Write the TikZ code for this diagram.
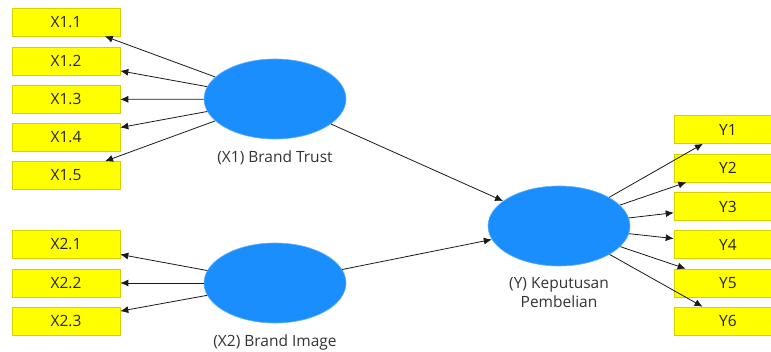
\documentclass[tikz,border=0pt]{standalone}
\usepackage{fontspec}
\setmainfont{Open Sans}
\usetikzlibrary{arrows.meta,shapes.geometric}
\definecolor{boxyellow}{HTML}{FFFF00}
\definecolor{boxedge}{HTML}{D8D000}
\definecolor{latblue}{HTML}{1A8EFC}
\definecolor{linecol}{HTML}{1A1A1A}
\begin{document}
\begin{tikzpicture}[x=1pt,y=-1pt,
  ind/.style={draw=boxedge,line width=0.6pt,fill=boxyellow,minimum width=108pt,minimum height=28pt,inner sep=0pt,font=\fontsize{15.5}{17}\selectfont,text=black!85},
  lat/.style={ellipse,fill=latblue,draw=latblue!70!white,line width=0.6pt,minimum width=142pt,minimum height=80pt,inner sep=0pt},
  lab/.style={font=\fontsize{15.5}{19}\selectfont,align=center,text=black!80},
  arr/.style={draw=linecol,line width=0.8pt,-{Latex[length=8pt,width=7pt]}}]
\useasboundingbox (0,0) rectangle (771,352);
\clip (0,0) rectangle (771,352);
% latent variables
\node[lat] (x1) at (275,99) {};
\node[lat] (x2) at (275,283) {};
\node[lat] (y) at (559,226) {};
\node[lab] (lx1) at (275,158) {(X1) Brand Trust};
\node[lab] (lx2) at (275,342) {(X2) Brand Image};
\node[lab] (ly) at (559,293) {(Y) Keputusan\\Pembelian};
% indicators
\node[ind] (x11) at (66,22) {X1.1};
\node[ind] (x12) at (66,61) {X1.2};
\node[ind] (x13) at (66,99.5) {X1.3};
\node[ind] (x14) at (66,137.5) {X1.4};
\node[ind] (x15) at (66,175.5) {X1.5};
\node[ind] (x21) at (66,244.5) {X2.1};
\node[ind] (x22) at (66,283) {X2.2};
\node[ind] (x23) at (66,321) {X2.3};
\node[ind] (y1) at (728,129.5) {Y1};
\node[ind] (y2) at (728,168) {Y2};
\node[ind] (y3) at (728,206.5) {Y3};
\node[ind] (y4) at (728,244.5) {Y4};
\node[ind] (y5) at (728,283) {Y5};
\node[ind] (y6) at (728,321) {Y6};
% connectors
\foreach \t in {x11,x12,x13,x14,x15} \draw[arr] (x1) -- (\t);
\foreach \t in {x21,x22,x23} \draw[arr] (x2) -- (\t);
\foreach \t in {y1,y2,y3,y4,y5,y6} \draw[arr] (y) -- (\t);
\draw[arr] (x1) -- (y);
\draw[arr] (x2) -- (y);
\end{tikzpicture}
\end{document}
